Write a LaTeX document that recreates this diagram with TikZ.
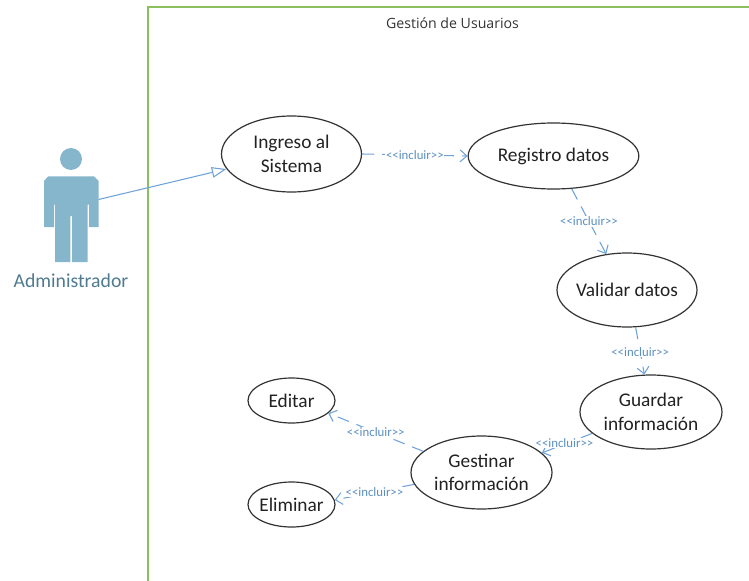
\documentclass[tikz,border=0pt]{standalone}
\usepackage{fontspec}
\setmainfont{Carlito}
\newfontfamily\titlefont{Open Sans}
\usetikzlibrary{arrows.meta,shapes.geometric}
\definecolor{frameg}{HTML}{8CBF5F}
\definecolor{linkb}{HTML}{6FA3D8}
\definecolor{lablb}{HTML}{5B8FC0}
\definecolor{actorb}{HTML}{86B6CC}
\definecolor{actort}{HTML}{4F7A90}
\definecolor{inkd}{HTML}{222222}
\newcommand{\incltext}{<{}<incluir>{}>}
\tikzset{
  usecase/.style={ellipse,draw=black!80,line width=0.9pt,fill=white,inner sep=-8pt,align=center,
    text=inkd,font=\fontsize{14.5}{17.5}\selectfont},
  incl/.style={draw=linkb,line width=0.8pt,dash pattern=on 9pt off 6pt,-{Straight Barb[length=5pt,width=9pt,line width=0.8pt]}},
  incllab/.style={fill=white,inner sep=0.5pt,text=lablb,font=\fontsize{9.6}{11}\selectfont},
  gener/.style={draw=linkb,line width=0.8pt,-{Triangle[open,fill=white,length=11pt,width=8pt,line width=0.8pt]}},
  actorpart/.style={fill=actorb,draw=none}
}
\begin{document}
\begin{tikzpicture}[x=0.75pt,y=-0.75pt]
\useasboundingbox (0,0) rectangle (749,581);
% system frame
\draw[frameg,line width=0.9pt] (148,581) -- (148,7) -- (749,7);
\node[text=black!80,font=\titlefont\fontsize{10.6}{13}\selectfont] (title) at (452.5,23.5) {Gestión de Usuarios};
% actor
\fill[actorpart] (71,159) circle[radius=11];
\fill[actorpart] (48,176.5) -- (94,176.5) -- (98.5,181) -- (98.5,227) -- (89,227) -- (89,204.5) -- (87.5,204.5)
  -- (87.5,262) -- (72,262) -- (72,216) -- (70.3,216) -- (70.3,262) -- (55,262) -- (55,204.5) -- (54,204.5) -- (54,227)
  -- (44,227) -- (44,181) -- cycle;
\coordinate (actor) at (98.5,199.5);
\node[text=actort,font=\fontsize{14.8}{17}\selectfont] (adminlab) at (71,280.5) {Administrador};
% use cases
\node[usecase,minimum width=105pt,minimum height=57pt] (ing) at (291.5,154) {Ingreso al\\Sistema};
\node[usecase,minimum width=128pt,minimum height=49.5pt] (reg) at (553.5,156) {Registro datos};
\node[usecase,minimum width=105pt,minimum height=55.5pt] (val) at (627,290) {Validar datos};
\node[usecase,minimum width=106.5pt,minimum height=55.5pt] (gua) at (651,412) {Guardar\\información};
\node[usecase,minimum width=105.75pt,minimum height=54.75pt] (ges) at (481.5,472.5) {Gestinar\\información};
\node[usecase,minimum width=65.25pt,minimum height=33.75pt] (edi) at (291.5,400.5) {Editar};
\node[usecase,minimum width=65.25pt,minimum height=33.75pt] (eli) at (291.5,504.5) {Eliminar};
% connectors
\draw[gener] (actor) -- (ing.193);
\draw[incl] (ing.east) -- node[incllab] {\incltext} (reg.west);
\draw[incl] (reg.-61) -- node[incllab,pos=0.5] {\incltext} (val.120);
\draw[incl] (val.-77) -- node[incllab,pos=0.52] {\incltext} (gua.100);
\draw[incl] (gua.200) -- node[incllab,pos=0.55,yshift=1pt] {\incltext} (ges.18);
\draw[incl] (ges.160) -- node[incllab,pos=0.5] {\incltext} (edi.-19);
\draw[incl] (ges.190) -- node[incllab,pos=0.5] {\incltext} (eli.6);
\end{tikzpicture}
\end{document}
